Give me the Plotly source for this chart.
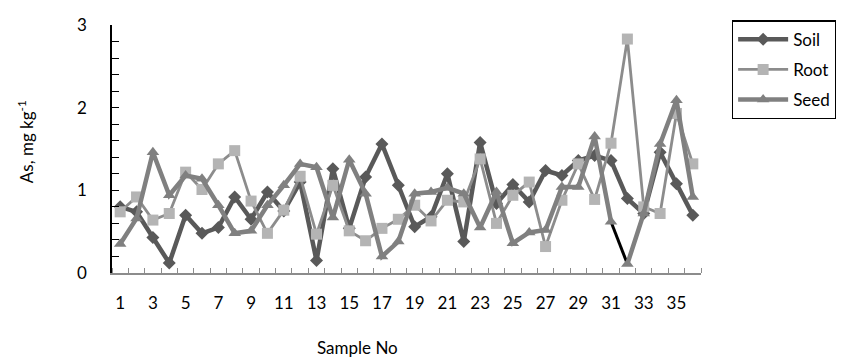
import plotly.graph_objects as go

samples = list(range(1, 37))
soil = [0.80, 0.74, 0.43, 0.12, 0.70, 0.48, 0.55, 0.92, 0.65, 0.98,
        0.75, 1.10, 0.15, 1.26, 0.54, 1.16, 1.56, 1.06, 0.56, 0.68,
        1.20, 0.38, 1.58, 0.84, 1.07, 0.86, 1.24, 1.18, 1.36, 1.42,
        1.36, 0.90, 0.72, 1.46, 1.08, 0.70]
root = [0.74, 0.92, 0.64, 0.72, 1.22, 1.01, 1.32, 1.48, 0.87, 0.48,
        0.76, 1.17, 0.47, 1.06, 0.51, 0.39, 0.54, 0.65, 0.82, 0.63,
        0.88, 0.86, 1.38, 0.60, 0.94, 1.10, 0.32, 0.88, 1.32, 0.89,
        1.57, 2.83, 0.80, 0.72, 1.93, 1.32]
seed = [0.35, 0.66, 1.46, 0.94, 1.18, 1.14, 0.82, 0.48, 0.51, 0.82,
        1.06, 1.32, 1.28, 0.67, 1.37, 0.96, 0.20, 0.38, 0.96, 0.98,
        1.03, 0.96, 0.55, 0.98, 0.36, 0.49, 0.52, 1.04, 1.04, 1.65,
        0.62, 0.11, 0.72, 1.56, 2.09, 0.92]

xtick_vals = list(range(1, 37, 2))
ytick_vals = [0, 1, 2, 3]

font = "Lato, Carlito, Calibri, sans-serif"
soil_c = "#595959"
root_line_c = "#8c8c8c"
root_mark_c = "#b4b4b4"
seed_c = "#808080"

fig = go.Figure()
fig.add_trace(go.Scatter(
    x=samples, y=soil, name="Soil", mode="lines+markers", legendgroup="soil",
    line=dict(color=soil_c, width=4.5),
    marker=dict(symbol="diamond", size=10, color=soil_c)))
fig.add_trace(go.Scatter(
    x=samples, y=root, name="Root", mode="lines+markers", legendgroup="root",
    line=dict(color=root_line_c, width=2.8),
    marker=dict(symbol="square", size=11, color=root_mark_c)))
# black segment between samples 31 and 32 of Seed series
fig.add_trace(go.Scatter(
    x=samples[30:32], y=seed[30:32], mode="lines", showlegend=False,
    legendgroup="seed",
    line=dict(color="#000000", width=3), hoverinfo="skip"))
fig.add_trace(go.Scatter(
    x=samples[:31], y=seed[:31], name="Seed", mode="lines+markers",
    legendgroup="seed",
    line=dict(color=seed_c, width=4.5),
    marker=dict(symbol="triangle-up", size=11, color=seed_c)))
fig.add_trace(go.Scatter(
    x=samples[31:], y=seed[31:], name="Seed", mode="lines+markers",
    legendgroup="seed", showlegend=False,
    line=dict(color=seed_c, width=4.5),
    marker=dict(symbol="triangle-up", size=11, color=seed_c)))

# page body has an 8px margin, so the figure is drawn 8px in from the corner
fig.update_layout(
    width=836, height=351,
    margin=dict(l=104, r=143, t=17, b=86, autoexpand=False),
    paper_bgcolor="white", plot_bgcolor="white",
    font=dict(family=font, size=17, color="#000000"),
    showlegend=True,
    legend=dict(x=1.052, y=1.019, xanchor="left", yanchor="top",
                bordercolor="#000000", borderwidth=1.5,
                bgcolor="white", font=dict(size=17),
                traceorder="grouped", tracegroupgap=5,
                itemwidth=50),
    xaxis=dict(
        range=[0.5, 36.5], tickmode="array", tickvals=xtick_vals,
        ticktext=[str(v) for v in xtick_vals],
        showgrid=False, zeroline=False,
        showline=True, linecolor="#8c8c8c", linewidth=1.5,
        ticks="", ticklabelstandoff=14,
        minor=dict(tick0=0.5, dtick=1, ticks="inside", ticklen=5,
                   tickcolor="#8c8c8c", tickwidth=1.2, showgrid=False),
        tickfont=dict(size=17)),
    yaxis=dict(
        range=[0, 3], tickmode="array", tickvals=ytick_vals,
        showgrid=False, zeroline=False,
        showline=True, linecolor="#000000", linewidth=1.5,
        ticks="inside", ticklen=7, tickcolor="#000000", tickwidth=1.2,
        ticklabelstandoff=20,
        minor=dict(dtick=0.2, tick0=0, ticks="inside", ticklen=7,
                   tickcolor="#000000", tickwidth=1.2, showgrid=False),
        tickfont=dict(size=17)),
    annotations=[
        dict(text="Sample No", xref="paper", yref="paper",
             x=0.416, y=-0.301, xanchor="center", yanchor="middle",
             showarrow=False, font=dict(size=17)),
        dict(text="As, mg kg<sup>-1</sup>", xref="paper", yref="paper",
             x=-0.148, y=0.531, xanchor="center", yanchor="middle",
             textangle=-90, showarrow=False, font=dict(size=17)),
    ],
)

fig.write_html("out.html")
